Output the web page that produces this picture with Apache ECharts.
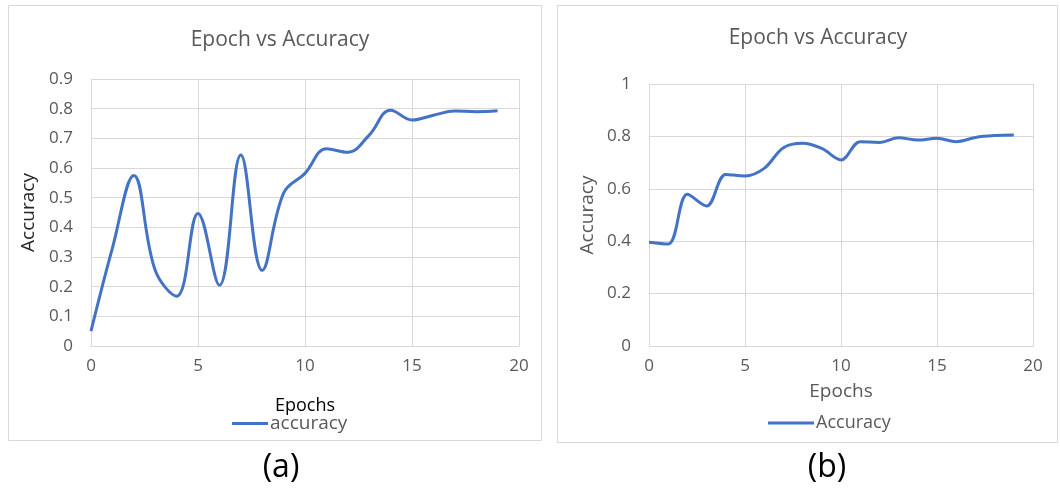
<!DOCTYPE html>
<html>
<head>
<meta charset="utf-8">
<script src="https://cdn.jsdelivr.net/npm/echarts@6/dist/echarts.min.js"></script>
<style>
html,body{margin:0;padding:0;background:#fff;}
#c{width:1060px;height:492px;}
</style>
</head>
<body>
<div id="c"></div>
<script>
// Data
const epochsA = [0,1,2,3,4,5,6,7,8,9,10,11,12,13,14,15,16,17,18,19];
const accuracyA = [0.05,0.33,0.575,0.255,0.168,0.447,0.205,0.644,0.255,0.515,0.582,0.665,0.653,0.711,0.795,0.762,0.778,0.792,0.79,0.793];
const epochsB = [0,1,2,3,4,5,6,7,8,9,10,11,12,13,14,15,16,17,18,19];
const accuracyB = [0.396,0.389,0.579,0.534,0.655,0.649,0.678,0.757,0.774,0.754,0.71,0.78,0.777,0.795,0.786,0.793,0.78,0.796,0.803,0.805];
const xTicks = [0,5,10,15,20];
const yTicksA = [0,0.1,0.2,0.3,0.4,0.5,0.6,0.7,0.8,0.9];
const yTicksB = [0,0.2,0.4,0.6,0.8,1];
const titleText = 'Epoch vs Accuracy';
const panelLabels = ['(a)','(b)'];

const FONT = 'Open Sans, Liberation Sans, sans-serif';
const GRAY = '#595959';
const GRID = '#d9d9d9';
const BLUE = '#4472C4';

const chart = echarts.init(document.getElementById('c'), null, {renderer:'canvas'});

function xAxis(gridIndex, name, nameGap, nameColor, nameSize){
  return {
    type:'value', gridIndex, min:xTicks[0], max:xTicks[xTicks.length-1], interval:5,
    axisLine:{show:true, lineStyle:{color:GRID}},
    axisTick:{show:false},
    splitLine:{show:true, lineStyle:{color:GRID, width:1}},
    axisLabel:{color:GRAY, fontSize:17, fontFamily:FONT, margin:12},
    name, nameLocation:'middle', nameGap,
    nameTextStyle:{color:nameColor, fontSize:nameSize, fontFamily:FONT}
  };
}
function yAxis(gridIndex, ticks, interval, nameColor, nameGap){
  return {
    type:'value', gridIndex, min:ticks[0], max:ticks[ticks.length-1], interval,
    axisLine:{show:true, lineStyle:{color:GRID}},
    axisTick:{show:false},
    splitLine:{show:true, lineStyle:{color:GRID, width:1}},
    axisLabel:{color:GRAY, fontSize:17, fontFamily:FONT, margin:18},
    name:'Accuracy', nameLocation:'middle', nameGap,
    nameTextStyle:{color:nameColor, fontSize:19, fontFamily:FONT}
  };
}

const option = {
  backgroundColor:'#fff',
  animation:false,
  title:[
    {text:titleText, left:275, top:25, textAlign:'center', textStyle:{color:GRAY, fontSize:21, fontWeight:'normal', fontFamily:FONT}},
    {text:titleText, left:813, top:23, textAlign:'center', textStyle:{color:GRAY, fontSize:21, fontWeight:'normal', fontFamily:FONT}},
    {text:panelLabels[0], left:276, top:447, textAlign:'center', textStyle:{color:'#000', fontSize:32, fontWeight:'normal', fontFamily:FONT}},
    {text:panelLabels[1], left:822, top:447, textAlign:'center', textStyle:{color:'#000', fontSize:32, fontWeight:'normal', fontFamily:FONT}}
  ],
  graphic:[
    {type:'rect', shape:{x:8.5, y:5.5, width:533, height:435}, style:{fill:null, stroke:GRID, lineWidth:1}, silent:true, z:-10},
    {type:'rect', shape:{x:557.5, y:5.5, width:500, height:437}, style:{fill:null, stroke:GRID, lineWidth:1}, silent:true, z:-10}
  ],
  legend:[
    {data:['accuracy'], left:227, top:409, icon:'rect', itemWidth:36, itemHeight:3, itemGap:2,
     textStyle:{color:GRAY, fontSize:19, fontFamily:FONT, padding:[0,0,0,-3]}},
    {data:['Accuracy'], left:763, top:409, icon:'rect', itemWidth:46, itemHeight:3, itemGap:2,
     textStyle:{color:GRAY, fontSize:18, fontFamily:FONT, padding:[0,0,0,-3]}}
  ],
  grid:[
    {left:91, top:79, width:428, height:267, containLabel:false},
    {left:649, top:84, width:384, height:262, containLabel:false}
  ],
  xAxis:[
    xAxis(0,'Epochs',51,'#000',18),
    xAxis(1,'Epochs',36,GRAY,19)
  ],
  yAxis:[
    yAxis(0, yTicksA, 0.1, '#262626', 53),
    yAxis(1, yTicksB, 0.2, GRAY, 52)
  ],
  series:[
    {name:'accuracy', type:'line', xAxisIndex:0, yAxisIndex:0, smooth:0.4, symbol:'none',
     lineStyle:{color:BLUE, width:3}, itemStyle:{color:BLUE},
     data: epochsA.map((e,i)=>[e, accuracyA[i]])},
    {name:'Accuracy', type:'line', xAxisIndex:1, yAxisIndex:1, smooth:0.35, symbol:'none',
     lineStyle:{color:BLUE, width:3}, itemStyle:{color:BLUE},
     data: epochsB.map((e,i)=>[e, accuracyB[i]])}
  ]
};
chart.setOption(option);
</script>
</body>
</html>
